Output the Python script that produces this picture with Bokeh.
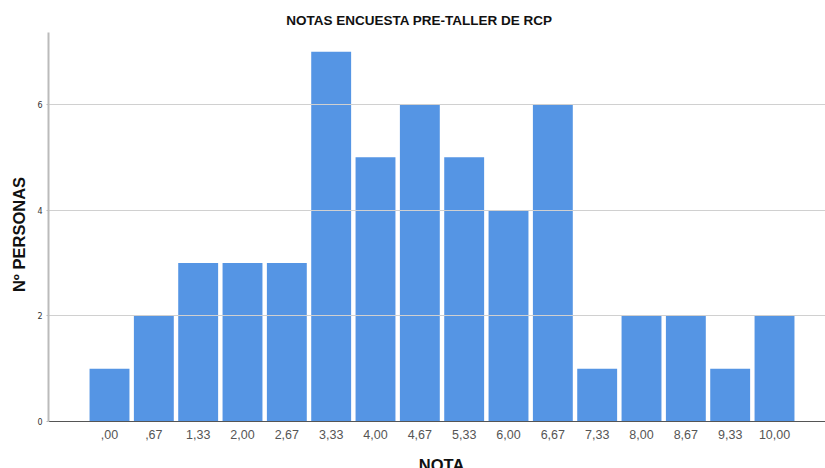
from bokeh.plotting import figure
from bokeh.models import ColumnDataSource, FixedTicker, Range1d, Label
from bokeh.embed import file_html
from bokeh.resources import INLINE

categories = [",00", ",67", "1,33", "2,00", "2,67", "3,33", "4,00", "4,67",
              "5,33", "6,00", "6,67", "7,33", "8,00", "8,67", "9,33", "10,00"]
counts = [1, 2, 3, 3, 3, 7, 5, 6, 5, 4, 6, 1, 2, 2, 1, 2]
y_ticks = [0, 2, 4, 6]
title_text = "NOTAS ENCUESTA PRE-TALLER DE RCP"
x_label = "NOTA"
y_label = "Nº PERSONAS"

idx = list(range(len(categories)))
src = ColumnDataSource(dict(x=idx, top=counts))

# frame spans the full height; the x axis sits at y=0 inside it, so that the
# x-axis title can be cut by the bottom edge as in the original
p = figure(width=825, height=468, output_backend="svg", toolbar_location=None,
           x_range=Range1d(-1.376, 16.15), y_range=Range1d(-0.8896, 7.969),
           min_border_left=48, min_border_right=0, min_border_top=0, min_border_bottom=0)

p.vbar(x="x", top="top", width=0.9, bottom=0, source=src,
       fill_color="#5595e4", line_color=None, level="underlay")

p.outline_line_color = None
p.background_fill_color = "white"
p.border_fill_color = "white"

p.xgrid.grid_line_color = None
p.ygrid.grid_line_color = "#d0d0d0"
p.ygrid.ticker = FixedTicker(ticks=[t for t in y_ticks if t > 0])

p.yaxis.ticker = FixedTicker(ticks=y_ticks)
p.yaxis.bounds = (0, 7.36)
p.yaxis.axis_label = y_label
p.yaxis.axis_label_text_font = "Liberation Sans"
p.yaxis.axis_label_text_font_size = "16.5px"
p.yaxis.axis_label_text_font_style = "bold"
p.yaxis.axis_label_text_color = "#111111"
p.yaxis.axis_label_standoff = 6
p.yaxis.major_label_text_font = "DejaVu Sans"
p.yaxis.major_label_text_font_size = "8px"
p.yaxis.major_label_text_color = "#333333"
p.yaxis.major_label_standoff = 4
p.yaxis.axis_line_color = "#bbbbbb"
p.yaxis.axis_line_width = 2
p.yaxis.major_tick_line_color = "#bbbbbb"
p.yaxis.major_tick_out = 2
p.yaxis.major_tick_in = 0
p.yaxis.minor_tick_line_color = None

p.xaxis.fixed_location = 0
p.xaxis.ticker = FixedTicker(ticks=idx)
p.xaxis.major_label_overrides = {i: c for i, c in zip(idx, categories)}
p.xaxis.major_label_text_font = "Liberation Sans"
p.xaxis.major_label_text_font_size = "12.5px"
p.xaxis.major_label_text_color = "#555555"
p.xaxis.major_label_standoff = 2
p.xaxis.axis_line_color = "#555555"
p.xaxis.axis_line_width = 1
p.xaxis.major_tick_line_color = None
p.xaxis.minor_tick_line_color = None

# Title (centred on the whole figure, like the original)
p.add_layout(Label(x=6.99, y=7.59, text=title_text, text_align="center",
                   text_baseline="middle", text_font="Liberation Sans",
                   text_font_size="13.5px", text_font_style="bold", text_color="#111111"))

# X-axis title, partly cut by the bottom edge as in the original
p.add_layout(Label(x=7.49, y=-0.65, text=x_label, text_align="center",
                   text_baseline="top", text_font="Liberation Sans",
                   text_font_size="16.5px", text_font_style="bold", text_color="#111111"))

open("out.html", "w").write(file_html(p, INLINE))
